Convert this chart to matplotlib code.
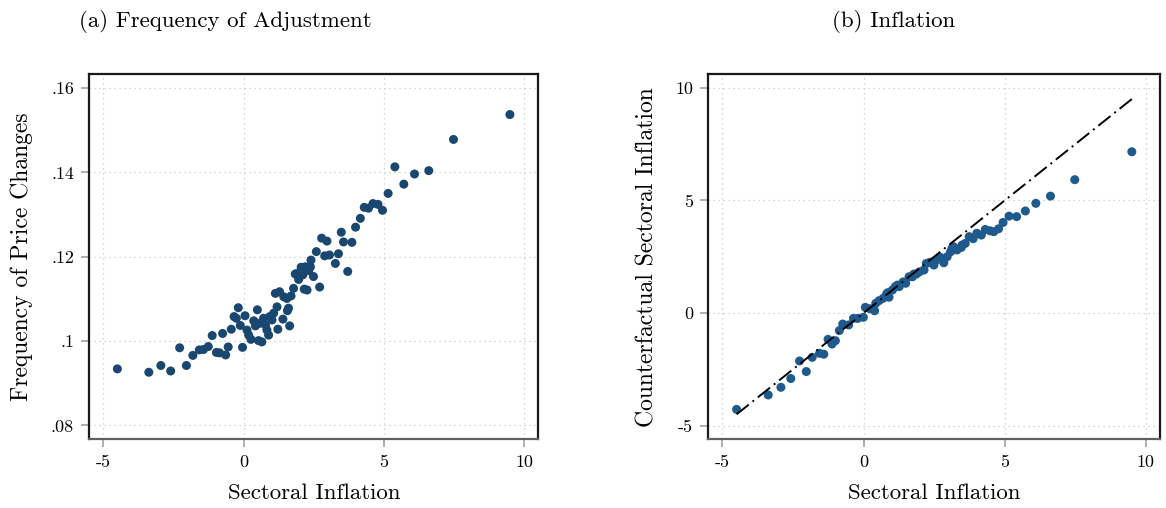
import numpy as np
import matplotlib
matplotlib.use("Agg")
import matplotlib.pyplot as plt
from matplotlib.ticker import FuncFormatter

plt.rcParams["font.family"] = ["cmr10", "DejaVu Serif"]
plt.rcParams["mathtext.fontset"] = "cm"
plt.rcParams["axes.unicode_minus"] = False
plt.rcParams["axes.formatter.use_mathtext"] = False

# ============================
# DATA
# ============================
# panel (a): sectoral inflation vs frequency of price changes
infl_a = [-4.50, -3.38, -2.95, -2.60, -2.04, -2.28, -1.81, -1.58, -1.43, -1.26,
          -1.12, -0.97, -0.86, -0.64, -0.55, -0.75, -0.44, -0.19, -0.34, -0.26,
          -0.12, 0.05, -0.04, 0.12, 0.18, 0.26, 0.36, 0.49, 0.42, 0.53,
          0.65, 0.71, 0.78, 0.89, 0.93, 1.01, 1.07, 1.19, 1.13, 1.28,
          1.22, 1.40, 1.56, 1.60, 1.64, 1.43, 1.54, 1.69, 1.78, 1.84,
          1.96, 2.05, 2.11, 2.16, 2.26, 2.32, 2.40, 2.49, 2.59, 2.71,
          2.78, 2.97, 2.89, 3.06, 3.27, 3.38, 3.48, 3.56, 3.71, 3.86,
          3.99, 4.16, 4.30, 4.45, 4.61, 4.79, 4.95, 5.15, 5.39, 5.71,
          6.09, 6.60, 7.48, 9.49, 0.57, 0.83, 1.90, 2.20, 2.38]
freq_a = [0.0934, 0.0926, 0.0942, 0.0929, 0.0942, 0.0984, 0.0966, 0.0979, 0.0980, 0.0987,
          0.1013, 0.0973, 0.0972, 0.0967, 0.0986, 0.1018, 0.1028, 0.1079, 0.1058, 0.1054,
          0.1037, 0.1060, 0.0985, 0.1026, 0.1014, 0.1004, 0.1048, 0.1074, 0.1036, 0.1001,
          0.0998, 0.1054, 0.1038, 0.1014, 0.1058, 0.1050, 0.1066, 0.1081, 0.1113, 0.1117,
          0.1028, 0.1052, 0.1072, 0.1078, 0.1036, 0.1105, 0.1101, 0.1107, 0.1125, 0.1159,
          0.1146, 0.1175, 0.1157, 0.1123, 0.1121, 0.1167, 0.1192, 0.1153, 0.1212, 0.1128,
          0.1244, 0.1237, 0.1202, 0.1204, 0.1184, 0.1207, 0.1258, 0.1235, 0.1165, 0.1234,
          0.1270, 0.1291, 0.1317, 0.1315, 0.1326, 0.1324, 0.1310, 0.1350, 0.1413, 0.1372,
          0.1396, 0.1404, 0.1478, 0.1537, 0.1042, 0.1026, 0.1160, 0.1176, 0.1176]

# panel (b): sectoral inflation vs counterfactual sectoral inflation
infl_b = [-4.50, -3.38, -2.93, -2.58, -2.27, -2.03, -1.82, -1.56, -1.41, -1.26,
          -1.12, -1.00, -0.86, -0.74, -0.53, -0.36, -0.21, -0.01, 0.06, 0.22,
          0.39, 0.43, 0.55, 0.69, 0.81, 0.90, 1.02, 1.12, 1.26, 1.40,
          1.49, 1.61, 1.73, 1.87, 1.98, 2.14, 2.22, 2.34, 2.49, 2.55,
          2.72, 2.84, 2.96, 3.08, 3.19, 3.31, 3.46, 3.60, 3.74, 3.88,
          4.01, 4.17, 4.31, 4.48, 4.61, 4.78, 4.94, 5.15, 5.42, 5.73,
          6.10, 6.62, 7.48, 9.50, 0.85, 1.20, 1.78, 2.43, 3.13, 3.49]
cf_b = [-4.28, -3.64, -3.30, -2.91, -2.13, -2.60, -1.97, -1.79, -1.83, -1.17,
        -1.38, -1.23, -0.78, -0.49, -0.53, -0.24, -0.24, -0.19, 0.25, 0.19,
        0.10, 0.43, 0.55, 0.65, 0.84, 0.70, 1.02, 1.17, 1.17, 1.38,
        1.32, 1.61, 1.61, 1.73, 1.83, 1.91, 2.20, 2.25, 2.13, 2.32,
        2.47, 2.23, 2.50, 2.72, 2.94, 2.80, 2.91, 3.09, 3.39, 3.30,
        3.54, 3.46, 3.71, 3.65, 3.61, 3.74, 4.02, 4.30, 4.28, 4.53,
        4.87, 5.19, 5.92, 7.16, 0.90, 1.24, 1.73, 2.23, 2.87, 3.02]

x_ticks = [-5, 0, 5, 10]
ya_ticks = [0.08, 0.10, 0.12, 0.14, 0.16]
yb_ticks = [-5, 0, 5, 10]

# ============================
# FIGURE
# ============================
fig = plt.figure(figsize=(11.66, 5.08), dpi=100)
ax_a = fig.add_axes([0.0766, 0.1352, 0.385, 0.719])
ax_b = fig.add_axes([0.6075, 0.1352, 0.3874, 0.719])


def style(ax):
    ax.set_xlim(-5.5, 10.5)
    ax.set_xticks(x_ticks)
    ax.xaxis.set_major_formatter(FuncFormatter(lambda v, p: f"{v:g}"))
    ax.grid(True, linestyle=(0, (1, 3)), color="#c8c8c8", linewidth=0.9)
    ax.set_axisbelow(True)
    for side in ["top", "right", "left"]:
        ax.spines[side].set_color("#1a1a1a")
        ax.spines[side].set_linewidth(1.6)
    ax.spines["bottom"].set_color("#606060")
    ax.spines["bottom"].set_linewidth(1.6)
    ax.tick_params(axis="both", length=6, width=1.1, color="#999999",
                   labelsize=13, pad=5)
    ax.set_xlabel("Sectoral Inflation", fontsize=16.5, labelpad=10)


# (a)
ax_a.scatter(infl_a, freq_a, s=42, color="#1a476f", edgecolors="none", zorder=3)
style(ax_a)
ax_a.set_ylim(0.0767, 0.1633)
ax_a.set_yticks(ya_ticks)
ax_a.yaxis.set_major_formatter(FuncFormatter(lambda v, p: f"{v:g}".lstrip("0")))
ax_a.set_ylabel("Frequency of Price Changes", fontsize=17, labelpad=13)
fig.text(0.193, 0.957, "(a) Frequency of Adjustment", fontsize=16.5, ha="center", va="center")

# (b)
ax_b.scatter(infl_b, cf_b, s=42, color="#1f5a8c", edgecolors="none", zorder=3)
lo, hi = min(infl_b), max(infl_b)
ax_b.plot([lo, hi], [lo, hi], color="black", linewidth=1.4,
          linestyle=(0, (8, 2.5, 1, 2.5)), zorder=4)
style(ax_b)
ax_b.set_ylim(-5.61, 10.61)
ax_b.set_yticks(yb_ticks)
ax_b.yaxis.set_major_formatter(FuncFormatter(lambda v, p: f"{v:g}"))
ax_b.set_ylabel("Counterfactual Sectoral Inflation", fontsize=17, labelpad=12)
fig.text(0.766, 0.957, "(b) Inflation", fontsize=16.5, ha="center", va="center")

plt.savefig("out.png", dpi=100)
